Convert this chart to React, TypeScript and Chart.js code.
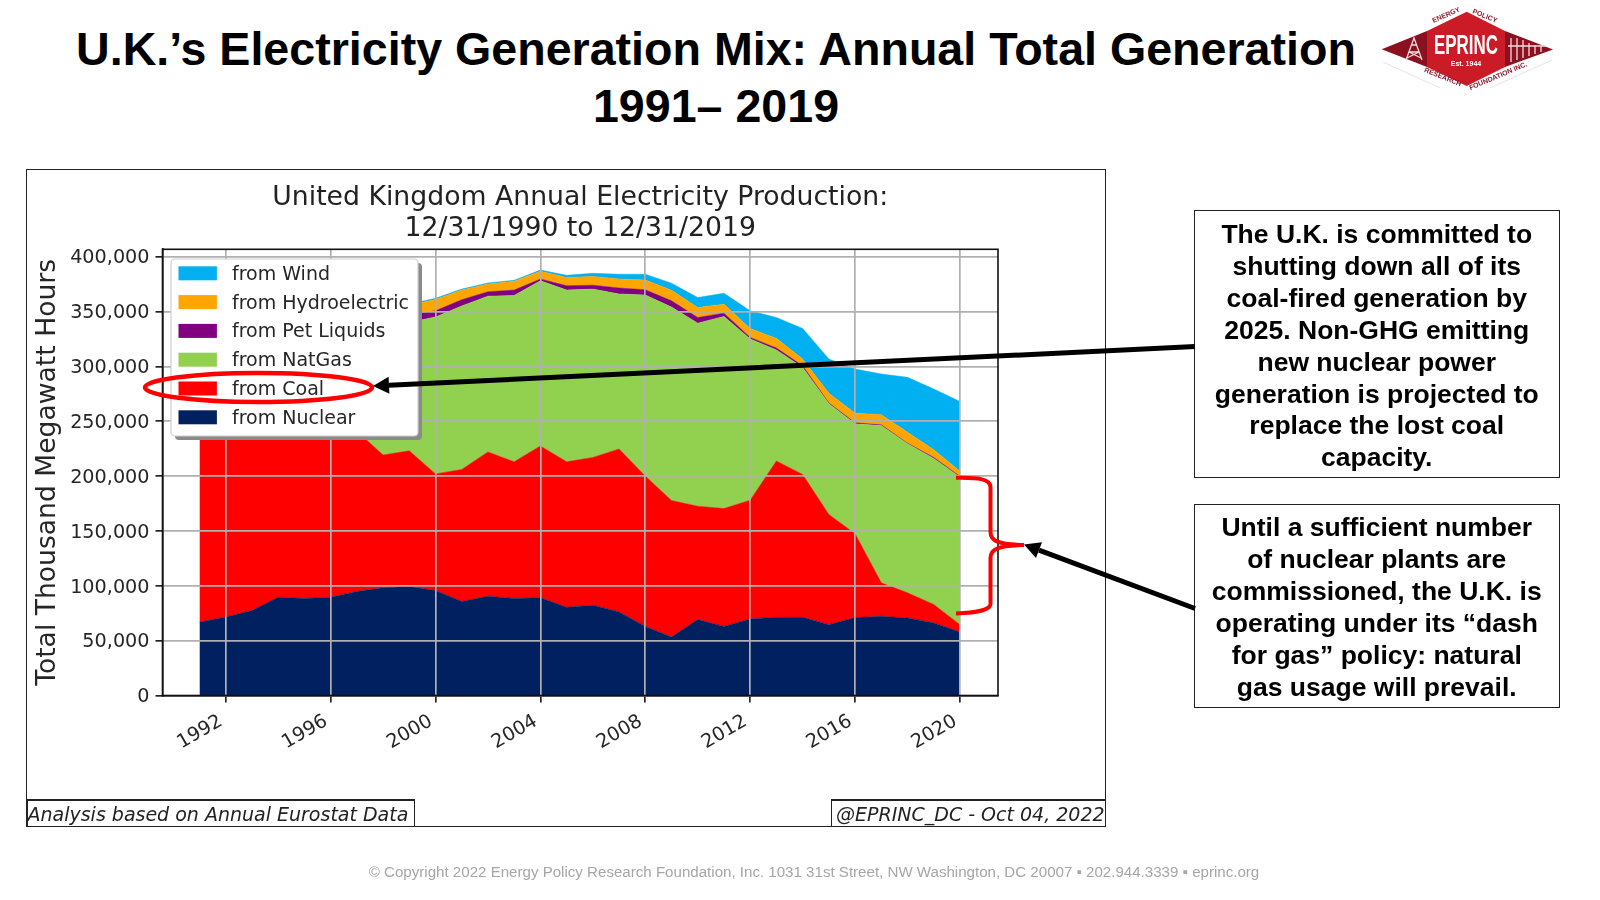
import React, { useEffect, useRef } from "react";
import { Chart, registerables } from "chart.js";

Chart.register(...registerables);

const years = [1991,1992,1993,1994,1995,1996,1997,1998,1999,2000,2001,2002,2003,2004,2005,2006,2007,2008,2009,2010,2011,2012,2013,2014,2015,2016,2017,2018,2019,2020];
const nuclear = [66800,71600,77400,89600,88400,89600,94800,98200,99400,95700,85700,90500,88400,89000,80500,82300,76200,63000,53300,69200,63000,69800,71300,71300,64600,71000,72200,70700,66100,57900];
const coal = [205200,190400,172600,165400,169600,168400,146200,121000,123600,106300,120300,131500,124600,138500,132500,134700,148500,137000,124400,103300,107400,108200,142400,130200,100400,76500,30500,22900,16900,6700];
const natGas = [1000,6000,29000,33000,40000,57000,81000,113800,117000,143000,149000,142000,151600,150500,156500,153400,141300,165000,176300,166900,175100,147000,101300,97500,101000,100100,143300,135800,133000,134400];
const petLiquids = [24000,23000,17000,12000,10000,11000,9000,8000,7000,5600,5700,4000,4900,1600,4000,3600,5400,4800,5700,5100,3000,1400,1700,1600,700,900,700,600,1000,700];
const hydro = [5000,5000,4000,5000,5000,5000,4000,5000,9000,10400,8800,7000,8000,7000,7500,8000,8200,8900,9700,9100,8200,8100,8800,6100,8800,8800,9300,10000,7000,4600];
const wind = [200,200,300,400,500,500,600,800,800,1000,900,1000,900,1200,2000,2800,4400,5300,6400,9100,10000,16100,19000,27800,31200,40300,37000,50000,55400,63700];

const xTickYears = [1992,1996,2000,2004,2008,2012,2016,2020];
const yTickValues = [0,50000,100000,150000,200000,250000,300000,350000,400000];

const headline = ["U.K.’s Electricity Generation Mix: Annual Total Generation", "1991– 2019"];
const chartTitle = ["United Kingdom Annual Electricity Production:", "12/31/1990 to 12/31/2019"];
const yTitle = "Total Thousand Megawatt Hours";
const noteOne = ["The U.K. is committed to","shutting down all of its","coal-fired generation by","2025. Non-GHG emitting","new nuclear power","generation is projected to","replace the lost coal","capacity."];
const noteTwo = ["Until a sufficient number","of nuclear plants are","commissioned, the U.K. is","operating under its “dash","for gas” policy: natural","gas usage will prevail."];
const sourceNote = "Analysis based on Annual Eurostat Data";
const creditNote = "@EPRINC_DC - Oct 04, 2022";
const footer = "© Copyright 2022 Energy Policy Research Foundation, Inc. 1031 31st Street, NW Washington, DC 20007 ▪ 202.944.3339 ▪ eprinc.org";

const series = [
  { label: "from Nuclear", values: nuclear, color: "#002060" },
  { label: "from Coal", values: coal, color: "#FF0000" },
  { label: "from NatGas", values: natGas, color: "#92D050" },
  { label: "from Pet Liquids", values: petLiquids, color: "#800080" },
  { label: "from Hydroelectric", values: hydro, color: "#FFA500" },
  { label: "from Wind", values: wind, color: "#00B0F0" },
];

const DEJAVU = '"DejaVu Sans", sans-serif';
const ARIAL = '"Liberation Sans", Arial, sans-serif';

const framePlugin = {
  id: "frameAndLegend",
  afterDraw(chart: any) {
    const { ctx, chartArea: a } = chart;
    ctx.save();
    ctx.strokeStyle = "#111";
    ctx.lineWidth = 1.6;
    ctx.strokeRect(a.left, a.top, a.right - a.left, a.bottom - a.top);

    // legend panel
    const x = 171, y = 259, w = 247, h = 177, r = 4;
    ctx.fillStyle = "#8a8a8a";
    ctx.beginPath();
    ctx.roundRect(x + 4, y + 4, w, h, r);
    ctx.fill();
    ctx.fillStyle = "#fff";
    ctx.strokeStyle = "#cfcfcf";
    ctx.lineWidth = 1.2;
    ctx.beginPath();
    ctx.roundRect(x, y, w, h, r);
    ctx.fill();
    ctx.stroke();
    ctx.font = "19px " + DEJAVU;
    ctx.textBaseline = "middle";
    ctx.textAlign = "left";
    const ds = [...chart.data.datasets].reverse();
    ds.forEach((d: any, i: number) => {
      const cy = 273.3 + i * 28.8;
      ctx.fillStyle = d.backgroundColor;
      ctx.fillRect(178.5, cy - 7, 38.4, 14);
      ctx.fillStyle = "#262626";
      ctx.fillText(d.label, 232, cy + 1.5);
    });
    ctx.restore();
  },
};

// Nudges an axis's tick labels by a few pixels, as its text sits slightly lower and further left in the reference.
function nudgeLabels(s: any, dx: number, dy: number) {
  if (s.__nudged) return;
  s.__nudged = true;
  const original = s._computeLabelItems;
  s._computeLabelItems = function (area: any) {
    return original.call(s, area).map((it: any) => ({
      ...it,
      options: { ...it.options, translation: [it.options.translation[0] + dx, it.options.translation[1] + dy] },
    }));
  };
}

function Arrow({ x1, y1, x2, y2 }: { x1: number; y1: number; x2: number; y2: number }) {
  const a = Math.atan2(y2 - y1, x2 - x1);
  const len = 16, half = 8.5;
  const bx = x2 - len * Math.cos(a), by = y2 - len * Math.sin(a);
  const nx = -Math.sin(a), ny = Math.cos(a);
  const pts = `${x2},${y2} ${bx + nx * half},${by + ny * half} ${bx - nx * half},${by - ny * half}`;
  return (
    <g>
      <line x1={x1} y1={y1} x2={bx} y2={by} stroke="#000" strokeWidth={5} />
      <polygon points={pts} fill="#000" />
    </g>
  );
}

function Logo() {
  const small = { fontFamily: ARIAL, fontSize: 7, fontWeight: 700, fill: "#8b1a2b" } as const;
  return (
    <g>
      <polygon points="1381.7,49.3 1427,31 1427,67" fill="#8B1020" />
      <polygon points="1505,31 1553,49.5 1505,67" fill="#8B1020" />
      <polygon points="1427,31 1466.7,11.7 1505,31 1505,67 1466.7,86 1427,67" fill="#CB1B26" />
      <line x1="1383" y1="62" x2="1440" y2="88" stroke="#ddd" strokeWidth={0.8} />
      <line x1="1552" y1="60" x2="1490" y2="88" stroke="#ddd" strokeWidth={0.8} />
      <g stroke="#f3dcdc" strokeWidth={1.3} fill="none">
        <path d="M1406 60 L1414 38 L1422 60 M1409 52 L1419 52 M1411 45 L1417 45 M1407 58 L1419 52 M1421 58 L1409 52" />
        <path d="M1511 38 V62 M1517 38 V60 M1523 40 V58 M1529 43 V56 M1535 45 V54 M1541 46 V52 M1508 46 H1546" />
      </g>
      <text x="1466" y="54" textAnchor="middle" fontFamily={ARIAL} fontWeight={700} fontSize={27} fill="#fff" textLength={64} lengthAdjust="spacingAndGlyphs">EPRINC</text>
      <text x="1466" y="66" textAnchor="middle" fontFamily={ARIAL} fontWeight={700} fontSize={7} fill="#fff">Est. 1944</text>
      <text transform="translate(1447,17) rotate(-24)" textAnchor="middle" {...small}>ENERGY</text>
      <text transform="translate(1484,18) rotate(22)" textAnchor="middle" {...small}>POLICY</text>
      <text transform="translate(1442,79) rotate(22)" textAnchor="middle" {...small}>RESEARCH</text>
      <text transform="translate(1499,78) rotate(-23)" textAnchor="middle" {...small}>FOUNDATION INC.</text>
    </g>
  );
}

function NoteBox({ lines, top, height, inset }: { lines: string[]; top: number; height: number; inset: number }) {
  return (
    <div style={{ position: "absolute", left: 1194, top, width: 365.5, height, boxSizing: "border-box", border: "1.5px solid #222", fontFamily: ARIAL, fontWeight: 700, fontSize: 26.5, lineHeight: "31.9px", textAlign: "center", color: "#000", paddingTop: inset }}>
      {lines.map((l) => <div key={l}>{l}</div>)}
    </div>
  );
}

function Tag({ text, left, width, inset }: { text: string; left: number; width: number; inset: number }) {
  return (
    <div style={{ position: "absolute", left, top: 799, width, height: 28, boxSizing: "border-box", borderTop: "2px solid #222", borderLeft: "1.8px solid #222", borderRight: "1.8px solid #222", fontFamily: DEJAVU, fontStyle: "italic", fontSize: 19, lineHeight: "26px", color: "#222", whiteSpace: "nowrap", paddingLeft: inset }}>
      {text}
    </div>
  );
}

export default function App() {
  const ref = useRef<HTMLCanvasElement | null>(null);
  useEffect(() => {
    if (!ref.current) return;
    const chart = new Chart(ref.current, {
      type: "line",
      data: {
        datasets: series.map((s, i) => ({
          label: s.label,
          data: s.values.map((v, k) => ({ x: years[k], y: v })),
          backgroundColor: s.color,
          borderColor: s.color,
          borderWidth: 0.5,
          pointRadius: 0,
          tension: 0,
          fill: i === 0 ? "origin" : "-1",
        })),
      },
      plugins: [framePlugin],
      options: {
        animation: false,
        responsive: false,
        devicePixelRatio: 1,
        layout: { padding: { left: 32, top: 170, right: 602, bottom: 124.5 } },
        plugins: {
          legend: { display: false },
          tooltip: { enabled: false },
          title: {
            display: true,
            fullSize: false,
            text: chartTitle,
            color: "#222",
            font: { family: DEJAVU, size: 26.7, weight: "normal", lineHeight: 1.146 },
            padding: { top: 12.7, bottom: 5.4 },
          },
        },
        scales: {
          x: {
            type: "linear",
            min: 1989.59,
            max: 2021.45,
            afterFit: (s: any) => { s.height = 80; nudgeLabels(s, -4.5, 2.5); },
            afterBuildTicks: (s: any) => { s.ticks = xTickYears.map((v) => ({ value: v })); },
            grid: { color: "#b0b0b0", lineWidth: 1.7, z: 1, tickColor: "#222", tickLength: 7 },
            border: { display: true, color: "#111", width: 1.6, z: 2 },
            ticks: { autoSkip: false, minRotation: 30, maxRotation: 30, padding: 5, color: "#262626", font: { family: DEJAVU, size: 19.2 }, callback: (v: any) => String(v) },
          },
          y: {
            stacked: true,
            min: 0,
            max: 406700,
            afterFit: (s: any) => { s.width = 130.5; nudgeLabels(s, 0, 1.8); },
            afterBuildTicks: (s: any) => { s.ticks = yTickValues.map((v) => ({ value: v })); },
            grid: { color: "#b0b0b0", lineWidth: 1.7, z: 1, tickColor: "#222", tickLength: 7 },
            border: { display: true, color: "#111", width: 1.6, z: 2 },
            ticks: { padding: 6, color: "#262626", font: { family: DEJAVU, size: 19.2 }, callback: (v: any) => Number(v).toLocaleString("en-US") },
            title: { display: true, text: yTitle, color: "#262626", font: { family: DEJAVU, size: 26.6, weight: "normal" }, padding: 0 },
          },
        },
      },
    } as any);
    return () => chart.destroy();
  }, []);

  return (
    <div style={{ position: "absolute", left: 0, top: 0, width: 1600, height: 900, overflow: "hidden", background: "#fff" }}>
      <div style={{ position: "absolute", left: 0, top: 21, width: 1432, textAlign: "center", fontFamily: ARIAL, fontWeight: 700, fontSize: 46.6, lineHeight: "57px", color: "#000", whiteSpace: "nowrap" }}>
        {headline.map((l) => <div key={l}>{l}</div>)}
      </div>
      <div style={{ position: "absolute", left: 26, top: 169, width: 1080, height: 658, boxSizing: "border-box", border: "1.3px solid #222" }} />
      <canvas ref={ref} width={1600} height={900} style={{ position: "absolute", left: 0, top: 0, display: "block" }} />
      <Tag text={sourceNote} left={26.5} width={388.5} inset={0} />
      <Tag text={creditNote} left={831} width={275} inset={4} />
      <NoteBox lines={noteOne} top={210} height={267.5} inset={8} />
      <NoteBox lines={noteTwo} top={504} height={204} inset={7} />
      <div style={{ position: "absolute", left: 0, top: 863, width: 1628, textAlign: "center", fontFamily: ARIAL, fontSize: 15.1, color: "#a6a6a6", whiteSpace: "nowrap" }}>{footer}</div>
      <svg width={1600} height={900} style={{ position: "absolute", left: 0, top: 0 }}>
        <ellipse cx={258.5} cy={387.5} rx={113.5} ry={14.5} fill="none" stroke="#FF0000" strokeWidth={4.5} />
        <Arrow x1={1195} y1={346.6} x2={373} y2={386} />
        <Arrow x1={1195} y1={608.5} x2={1024} y2={544.5} />
        <path d="M956 477.7 C972 478 990 477 990.5 487 L990.5 532 C990.5 541 998 544.5 1024 545 C998 545.5 990.5 549 990.5 558 L990.5 604 C990.5 610 975 613 956 613.5" fill="none" stroke="#FF0000" strokeWidth={4} />
        <Logo />
      </svg>
    </div>
  );
}
